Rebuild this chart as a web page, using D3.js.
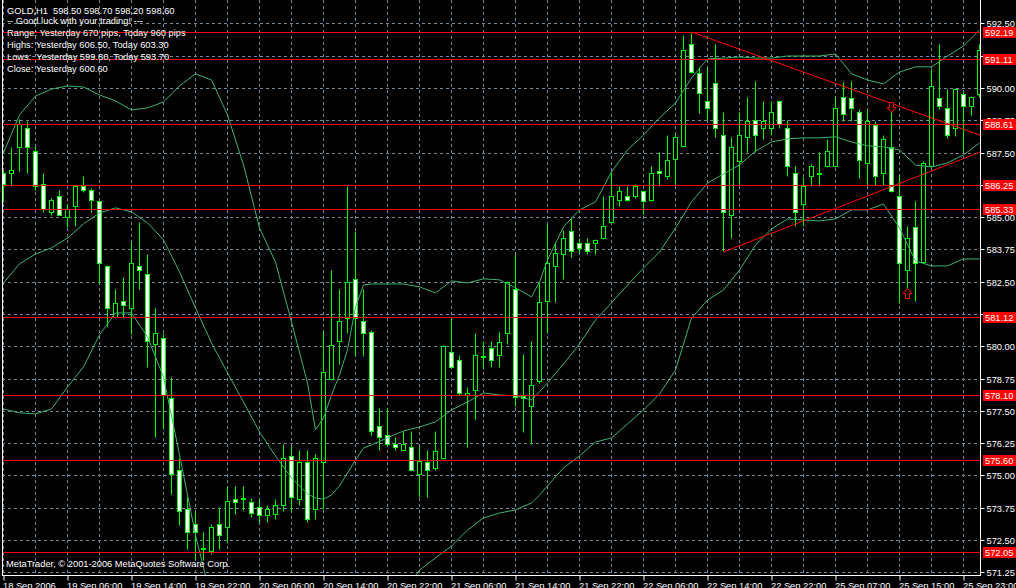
<!DOCTYPE html>
<html><head><meta charset="utf-8">
<script src="https://cdn.jsdelivr.net/npm/d3@7"></script>
<style>html,body{margin:0;padding:0;background:#000;}svg{display:block;}</style>
</head><body><svg id="c" width="1016" height="588"></svg>
<script>
// ---- data (hourly candles, index 0 = first bar on the left) ----
const opens  = [586.70,586.70,587.70,588.47,587.58,586.30,585.18,585.80,584.99,585.45,586.19,586.07,585.61,583.09,581.15,581.77,581.50,583.09,582.78,580.07,580.30,577.98,575.19,573.68,573.10,572.17,572.06,573.10,572.98,574.07,574.11,573.95,573.76,573.45,573.49,573.87,575.73,574.07,575.50,573.68,575.50,578.75,580.19,581.11,582.59,580.96,580.57,576.93,576.55,576.20,576.00,576.08,575.07,575.50,575.27,575.69,579.76,579.45,578.10,578.29,579.61,579.95,579.65,580.50,582.20,578.06,577.67,578.64,581.74,583.09,583.59,584.48,583.98,583.98,583.98,584.18,584.80,585.65,585.80,585.80,586.03,585.65,586.77,586.58,587.27,587.74,591.69,590.60,589.48,590.18,588.20,585.10,587.16,588.09,588.78,588.47,588.47,589.48,588.47,586.70,585.49,586.58,586.70,587.00,587.00,589.67,589.60,589.09,587.08,588.55,586.70,587.70,585.80,582.97,584.60,583.28,587.00,589.60,589.21,588.47,589.75,589.29,589.75];
const highs  = [586.81,587.70,588.82,588.71,587.74,586.70,585.76,586.07,585.49,586.23,586.58,586.11,585.65,583.13,582.20,582.70,584.02,584.80,583.59,581.50,580.53,578.79,575.69,574.18,573.60,572.79,573.10,573.79,574.57,574.57,574.57,574.14,574.07,573.87,574.07,576.20,576.12,576.00,576.00,575.81,580.57,582.97,582.20,586.19,584.48,582.20,580.61,577.59,577.59,576.47,576.70,576.70,576.12,576.00,576.70,580.03,581.15,579.65,578.44,580.50,580.19,580.19,580.57,582.51,583.59,579.68,580.19,582.47,584.72,584.02,584.52,584.99,584.18,584.18,584.14,585.80,586.73,586.19,586.19,586.30,586.07,587.00,587.51,588.20,588.24,592.07,592.15,590.80,590.76,591.69,589.09,588.09,589.09,589.67,590.29,589.48,589.48,589.52,588.78,587.00,586.54,587.04,587.51,588.01,589.67,590.22,590.26,589.17,589.17,588.71,588.20,589.29,586.66,584.64,585.61,587.16,590.72,591.69,589.98,590.02,589.83,589.71,591.69];
const lows   = [585.57,586.19,586.77,586.70,586.07,585.18,585.10,585.07,584.60,584.64,585.96,585.18,582.40,580.77,581.11,581.15,580.46,582.20,579.18,576.47,576.78,574.26,573.06,572.13,571.74,571.74,571.94,572.13,572.40,573.49,573.64,573.37,573.21,573.21,573.29,573.60,573.60,573.87,573.18,573.29,573.68,578.71,579.30,580.53,579.65,579.61,576.58,576.00,576.12,576.00,575.97,575.15,574.18,574.18,575.19,575.65,579.14,578.13,576.08,577.20,579.10,579.18,579.18,580.07,577.67,576.66,576.20,578.56,580.50,581.70,582.59,583.44,583.63,583.59,583.59,584.14,584.76,585.45,585.61,585.76,585.14,585.61,586.19,586.46,586.19,587.70,590.60,589.05,588.78,588.09,583.67,584.21,586.19,587.51,587.54,588.01,588.20,588.47,586.58,584.64,584.64,586.19,586.19,586.96,586.96,588.71,588.71,586.50,586.23,586.23,586.23,585.96,581.66,581.93,581.77,583.24,586.96,589.17,588.05,588.16,587.51,588.94,589.67];
const closes = [586.27,586.81,588.59,587.70,586.19,585.30,585.68,585.10,585.30,586.19,586.07,585.68,583.21,581.50,581.69,581.58,583.21,582.97,580.19,580.50,578.10,575.07,573.60,572.79,572.79,572.15,572.98,572.67,573.99,573.95,574.07,573.56,573.45,573.68,573.87,575.69,574.18,575.50,573.29,575.69,578.99,580.03,580.96,582.47,581.11,580.50,576.70,576.47,576.20,576.08,576.20,575.19,575.54,575.19,575.96,580.00,579.18,578.17,578.17,579.65,579.60,579.45,580.15,582.47,578.02,577.98,578.48,581.70,583.21,583.63,584.18,583.67,583.79,583.67,584.10,584.64,585.80,586.00,585.65,586.19,585.61,586.70,586.70,587.20,588.09,591.49,590.64,589.79,589.21,588.47,585.18,587.70,588.20,588.71,588.20,588.71,589.09,588.59,587.00,585.18,586.19,587.00,586.68,587.58,589.21,588.98,589.21,587.20,588.71,586.58,588.01,586.00,583.21,584.18,583.21,587.08,590.06,589.29,588.20,589.98,589.29,589.67,591.49];

// Bollinger bands at these bar indices
const bandIdx    = [0,2,4,6,8,10,12,14,16,18,20,22,24,26,28,30,32,34,36,38,39,40,41,42,43,44,45,46,48,50,52,54,56,58,60,62,64,66,67,68,70,72,74,76,78,80,82,84,86,88,90,92,94,96,98,100,102,104,106,108,110,112,114,116,118,120,122];
const upperBand  = [587.51,588.98,589.71,589.98,590.10,590.06,589.75,589.52,589.17,589.25,589.48,590.10,590.57,590.33,588.98,587.04,584.60,583.28,580.96,578.60,576.78,577.24,578.13,578.91,579.88,581.54,582.39,582.43,582.43,582.43,582.32,582.08,582.55,582.47,582.63,582.59,582.28,581.93,582.51,583.36,584.64,585.30,585.61,586.77,587.62,588.20,588.86,589.44,590.41,591.15,591.18,591.22,591.18,591.18,591.26,591.26,591.26,591.34,590.57,590.33,590.18,590.64,590.84,590.84,591.26,591.65,592.27];
const middleBand = [582.47,583.21,583.59,583.83,584.21,584.76,585.18,585.38,585.22,584.80,584.14,582.90,581.50,580.15,578.99,577.86,576.70,575.77,574.92,574.30,574.14,574.10,574.26,574.61,575.11,575.61,576.08,576.20,576.47,576.74,576.89,577.09,577.55,577.86,578.21,578.13,578.10,577.94,578.25,578.60,579.33,580.11,581.04,581.70,582.39,583.05,583.67,584.60,585.61,586.34,586.69,587.04,587.58,587.93,588.05,588.09,588.09,588.13,587.93,587.78,587.74,587.62,587.04,586.96,587.12,587.43,587.89];
const lowerBand  = [577.59,577.44,577.40,577.59,578.44,579.22,580.46,581.31,581.31,580.38,578.83,575.81,572.71,570.19,null,null,null,null,null,null,null,null,null,null,null,null,null,null,null,570.39,571.35,571.82,572.28,572.90,573.37,573.56,573.68,573.95,574.25,574.61,575.31,575.77,576.31,576.47,577.01,577.55,578.17,579.10,581.11,581.81,582.20,582.97,583.94,584.56,584.95,584.91,584.87,584.95,585.30,585.30,585.53,584.60,583.32,583.13,583.13,583.40,583.40];

const priceTicks = [592.50,591.25,590.00,588.75,587.50,586.25,585.00,583.75,582.50,581.25,580.00,578.75,577.50,576.25,575.00,573.75,572.50,571.25];
const levelValues = [592.19,591.11,588.61,586.25,585.33,581.12,578.10,575.60,572.05];
const timeTickIdx = [0,8,16,24,32,40,48,56,64,72,80,88,96,104,112,120];
const timeLabels = ["18 Sep 2006","19 Sep 06:00","19 Sep 14:00","19 Sep 22:00","20 Sep 06:00","20 Sep 14:00","20 Sep 22:00","21 Sep 06:00","21 Sep 14:00","21 Sep 22:00","22 Sep 06:00","22 Sep 14:00","22 Sep 22:00","25 Sep 07:00","25 Sep 15:00","25 Sep 23:00"];
const infoLines = ["GOLD,H1  598.50 598.70 598.20 598.60","-- Good luck with your trading! ---","Range: Yesterday 670 pips, Today 960 pips","Highs: Yesterday 606.50, Today 603.30","Lows:  Yesterday 599.80, Today 593.70","Close: Yesterday 600.60"];
const trendStart = [[86,592.19],[90,583.67]];
const trendEnd   = [[122.1,588.19],[122.1,587.54]];
const arrowDown = [[111,589.25]];
const arrowUp   = [[113,582.05]];
const copyright = "MetaTrader, \u00A9 2001-2006 MetaQuotes Software Corp.";

// ---- drawing ----
const W=1016,H=588,L=2,R=980,B=575;
const FONT = "'Liberation Sans', Arial, sans-serif";
const FS = "9.3px";
const svg = d3.select('#c');
const x = d3.scaleLinear().domain([0,1]).range([3.5,11.5]);
const y = d3.scaleLinear().domain([592.19,572.05]).range([32,552]);
const sn = v => Math.round(v - 0.5) + 0.5;

svg.append('rect').attr('width',W).attr('height',H).attr('fill','#000');
svg.append('defs').append('clipPath').attr('id','clip')
  .append('rect').attr('x',L+1).attr('y',0).attr('width',R-L-1).attr('height',B);
const plot = svg.append('g').attr('clip-path','url(#clip)');

// grid
plot.append('g').selectAll('line').data(priceTicks).join('line')
  .attr('x1',L).attr('x2',R).attr('y1',d=>sn(y(d))).attr('y2',d=>sn(y(d)))
  .attr('stroke','#778899').attr('stroke-dasharray','3,3');
plot.append('g').selectAll('line').data(d3.range(0,123,4)).join('line')
  .attr('x1',d=>x(d)).attr('x2',d=>x(d)).attr('y1',0).attr('y2',B)
  .attr('stroke','#778899').attr('stroke-dasharray','3,3');

// candles
const idx = d3.range(opens.length);
const cg = plot.append('g');
cg.selectAll('line.w').data(idx).join('line').attr('class','w')
  .attr('x1',i=>x(i)).attr('x2',i=>x(i))
  .attr('y1',i=>sn(y(highs[i]))).attr('y2',i=>sn(y(lows[i])))
  .attr('stroke','#00ff00').attr('stroke-width',1);
idx.forEach(i=>{
  const t = sn(y(Math.max(opens[i],closes[i]))), b = sn(y(Math.min(opens[i],closes[i])));
  if (b - t < 1) {
    cg.append('line').attr('x1',x(i)-2.5).attr('x2',x(i)+2.5).attr('y1',t).attr('y2',t)
      .attr('stroke','#00ff00');
  } else {
    cg.append('rect').attr('x',x(i)-2).attr('y',t).attr('width',4).attr('height',b-t)
      .attr('fill', closes[i] < opens[i] ? '#ffffff' : '#000000')
      .attr('stroke','#00ff00').attr('stroke-width',1);
  }
});

// bollinger bands
const bandLine = d3.line().defined(d=>d[1]!=null).x(d=>x(d[0])).y(d=>y(d[1]));
[upperBand,middleBand,lowerBand].forEach(band=>{
  plot.append('path').datum(bandIdx.map((k,j)=>[k,band[j]]))
    .attr('d',bandLine).attr('fill','none').attr('stroke','#3cb371').attr('stroke-width',1);
});

// horizontal levels
plot.append('g').selectAll('line').data(levelValues).join('line')
  .attr('x1',L).attr('x2',R).attr('y1',d=>sn(y(d))).attr('y2',d=>sn(y(d)))
  .attr('stroke','#ff0000').attr('stroke-width',1);

// trend lines
plot.append('g').selectAll('line').data(trendStart).join('line')
  .attr('x1',(d)=>x(d[0])).attr('y1',d=>y(d[1]))
  .attr('x2',(d,j)=>x(trendEnd[j][0])).attr('y2',(d,j)=>y(trendEnd[j][1]))
  .attr('stroke','#ff0000').attr('stroke-width',1);

// arrows
arrowDown.forEach(([i,p])=>{
  const cx=x(i), cy=sn(y(p));
  const pts=[[cx-2,cy-5],[cx+2,cy-5],[cx+2,cy],[cx+4.5,cy],[cx,cy+5],[cx-4.5,cy],[cx-2,cy]];
  plot.append('path').attr('d','M'+pts.join('L')+'Z').attr('fill','#000').attr('stroke','#ff0000');
});
arrowUp.forEach(([i,p])=>{
  const cx=x(i), cy=sn(y(p));
  const pts=[[cx-2,cy+5],[cx+2,cy+5],[cx+2,cy],[cx+4.5,cy],[cx,cy-5],[cx-4.5,cy],[cx-2,cy]];
  plot.append('path').attr('d','M'+pts.join('L')+'Z').attr('fill','#000').attr('stroke','#ff0000');
});

// info text
const infoY=[13.5,24,36,48,59.5,71.5];
svg.append('g').selectAll('text').data(infoLines).join('text')
  .attr('x',7).attr('y',(d,j)=>infoY[j]).text(d=>d)
  .attr('fill','#fff').attr('font-family',FONT).attr('font-size',FS).style('white-space','pre');
svg.append('text').attr('x',6).attr('y',566.5).text(copyright)
  .attr('fill','#fff').attr('font-family',FONT).attr('font-size',FS);

// borders
svg.append('line').attr('x1',L+0.5).attr('x2',L+0.5).attr('y1',0).attr('y2',B+0.5).attr('stroke','#fff');
svg.append('line').attr('x1',R+0.5).attr('x2',R+0.5).attr('y1',0).attr('y2',B+0.5).attr('stroke','#fff');
svg.append('line').attr('x1',L).attr('x2',R+1).attr('y1',B+0.5).attr('y2',B+0.5).attr('stroke','#fff');

// right price axis
const ya = svg.append('g').attr('transform',`translate(${R+0.5},0)`)
  .call(d3.axisRight(y).tickValues(priceTicks).tickSize(4).tickPadding(2).tickFormat(d3.format('.2f')));
ya.select('.domain').remove();
ya.selectAll('line').attr('stroke','#fff').attr('transform','translate(0,0)');
ya.selectAll('.tick').attr('transform',d=>`translate(0,${sn(y(d))})`);
ya.selectAll('text').attr('fill','#fff').attr('font-family',FONT).attr('font-size',FS).attr('dy','0.36em');

// level labels
const lg = svg.append('g').selectAll('g').data(levelValues).join('g')
  .attr('transform',d=>`translate(0,${sn(y(d))})`);
lg.append('rect').attr('x',983).attr('y',-5.5).attr('width',33).attr('height',11).attr('fill','#ff0000');
lg.append('text').attr('x',985).attr('y',0).attr('dy','0.36em').text(d=>d.toFixed(2))
  .attr('fill','#fff').attr('font-family',FONT).attr('font-size',FS);

// bottom time axis
const xa = svg.append('g').attr('transform',`translate(0,${B+0.5})`)
  .call(d3.axisBottom(x).tickValues(timeTickIdx).tickSize(5).tickPadding(0).tickFormat((d,j)=>timeLabels[j]));
xa.select('.domain').remove();
xa.selectAll('line').attr('stroke','#fff');
xa.selectAll('text').attr('fill','#fff').attr('font-family',FONT).attr('font-size',FS)
  .attr('text-anchor','start').attr('x',-1).attr('y',13).attr('dy',0);
</script></body></html>
